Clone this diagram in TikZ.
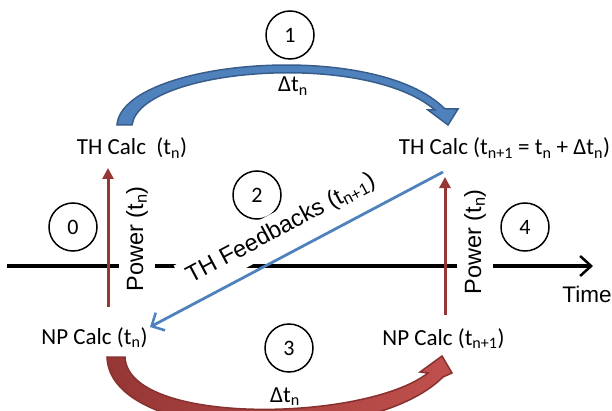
\documentclass[tikz,border=0pt]{standalone}
\usepackage{fontspec}
\setmainfont{Carlito}
\newfontfamily\arialfont{Liberation Sans}
\usetikzlibrary{arrows.meta}
\definecolor{pblue}{RGB}{79,129,189}
\definecolor{pblued}{RGB}{56,93,138}
\definecolor{pred}{RGB}{150,55,53}
\definecolor{predl}{RGB}{192,80,77}
\begin{document}
\begin{tikzpicture}[x=1pt,y=1pt,
  every node/.style={font=\fontsize{23}{27}\selectfont},
  calc/.style={anchor=base,inner sep=0pt},
  num/.style={draw,circle,line width=1.5pt,minimum size=48pt,inner sep=0pt,font=\fontsize{22}{26}\selectfont},
  pw/.style={rotate=90,fill=white,inner sep=7pt,font=\arialfont\fontsize{23.5}{27}\selectfont},
  tl/.style={line width=3.5pt,-{Straight Barb[length=11pt,width=20pt,line width=2.5pt]}},
  pa/.style={pred,line width=3pt,-{Triangle[width=11pt,length=11pt]}},
  fbk/.style={pblue,line width=2.8pt,-{Straight Barb[length=10pt,width=20pt,line width=2.5pt]}},
  bandb/.style={draw=pblued,line width=1.5pt,fill=pblue},
  bandr/.style={draw=pred!90!black,line width=1.5pt,left color=pred,right color=predl}]
\useasboundingbox (0,0) rectangle (612,410);
%------------- time step arrows
\draw[bandb] (117,285) .. controls (122,350) and (375,372) .. (445,301)
  -- (458,301) -- (448,285) -- (428,300) -- (435,300)
  .. controls (365,360) and (140,342) .. (132,285) -- cycle;
\draw[bandr] (107,53) .. controls (110,-35) and (370,-40) .. (443,33)
  -- (452,37) -- (442,54) -- (420,38) -- (428,37)
  .. controls (365,-12) and (128,-16) .. (125,53) -- cycle;
% time axis, under the white labels
\coordinate (tl0) at (7,144); \coordinate (tl1) at (593,144);
\draw[tl] (tl0) -- (tl1);
\node[anchor=base,font=\arialfont\fontsize{22.5}{26}\selectfont] (time) at (587,108) {Time};
%------------- calculations
\node[calc] (th0) at (132,255) {TH Calc~ (t\textsubscript{n})};
\node[calc] (th1) at (504.5,255) {TH Calc (t\textsubscript{n+1} = t\textsubscript{n} + Δt\textsubscript{n})};
\node[calc] (np0) at (94.5,66) {NP Calc (t\textsubscript{n})};
\node[calc] (np1) at (443.5,65) {NP Calc (t\textsubscript{n+1})};
%------------- steps
\node[num] (c0) at (73,183) {0};
\node[num] (c1) at (290,375) {1};
\node[num] (c2) at (257,215) {2};
\node[num] (c3) at (289,62) {3};
\node[num] (c4) at (525,183) {4};
\node[calc] (dt1) at (293,318) {Δt\textsubscript{n}};
\node[calc] (dt3) at (285,8) {Δt\textsubscript{n}};
%------------- power and feedbacks
\node[pw] (pw0) at (137,171) {Power (t\textsubscript{n})};
\node[pw] (pw1) at (475,168) {Power (t\textsubscript{n})};
\node[pw,rotate=-62] (fb) at (281,181) {TH Feedbacks (t\textsubscript{n+1})};
\coordinate (p0a) at (108,103); \coordinate (p0b) at (108,242);
\coordinate (p1a) at (445,95); \coordinate (p1b) at (445,233);
\coordinate (f0) at (443,238); \coordinate (f1) at (150,83);
\draw[pa] (p0a) -- (p0b);
\draw[pa] (p1a) -- (p1b);
\draw[fbk] (f0) -- (f1);
\end{tikzpicture}
\end{document}
